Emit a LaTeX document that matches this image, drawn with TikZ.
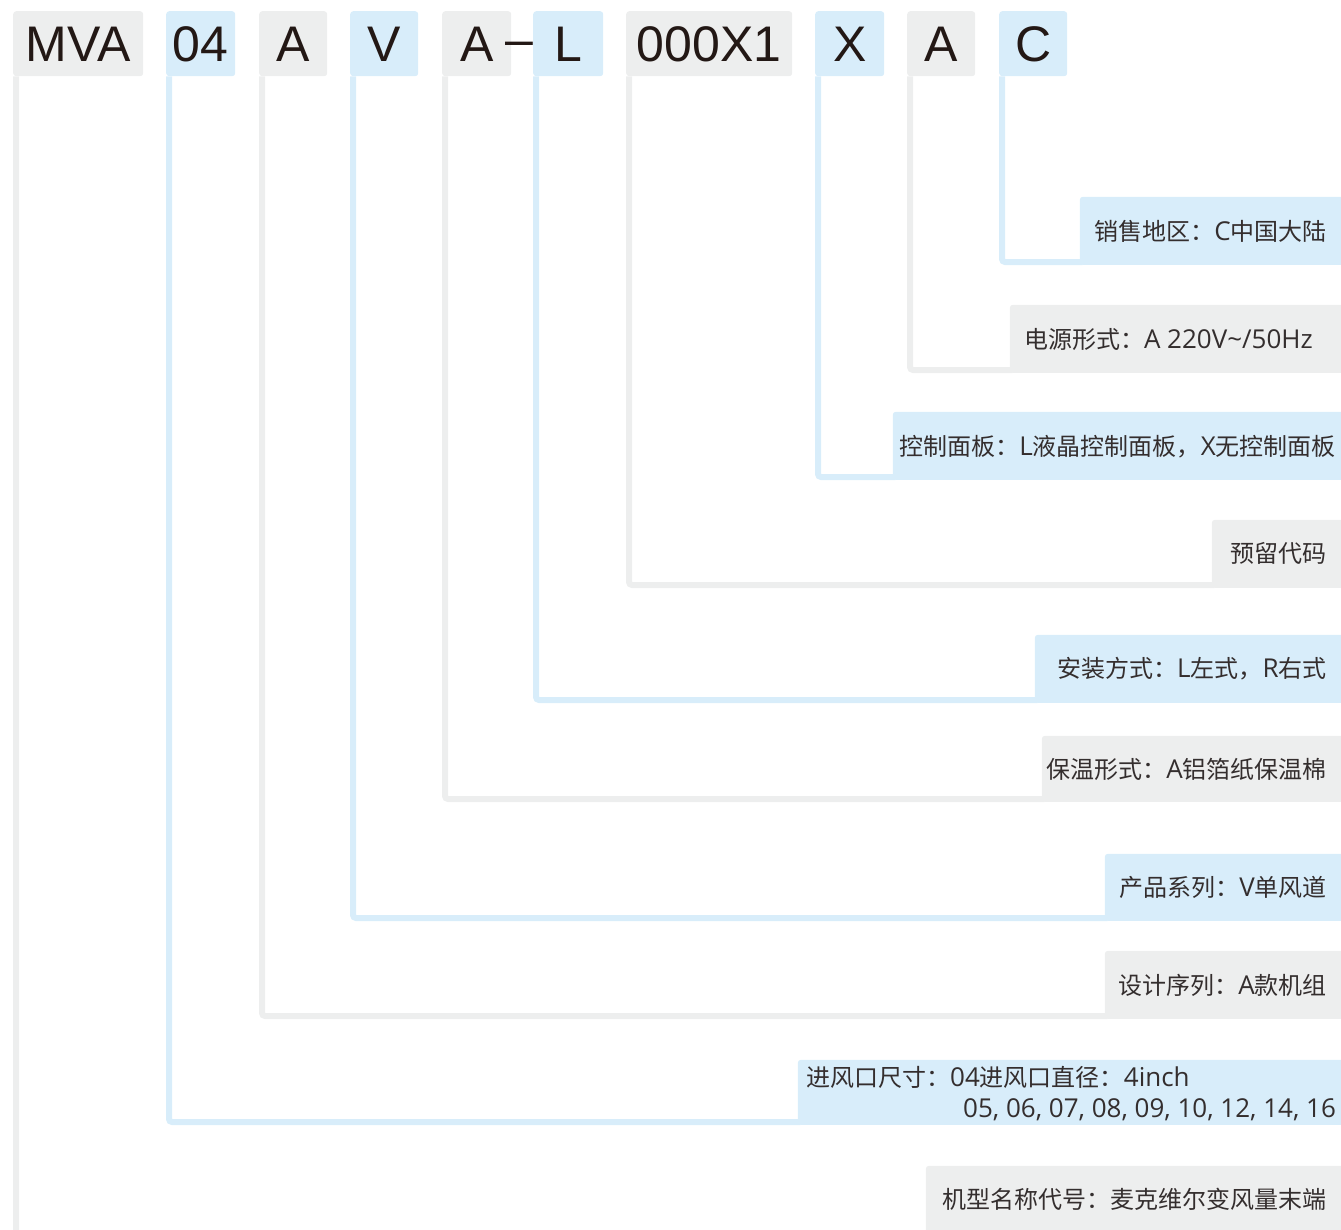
\documentclass[tikz,border=0pt]{standalone}
\usepackage{fontspec}
\setmainfont{Open Sans}
\newfontfamily\cjkfont{Noto Sans CJK SC}
\newfontfamily\codefont{Liberation Sans}
\newcommand\zh[1]{{\cjkfont\fontsize{24}{28}\selectfont #1}}
\definecolor{boxgray}{RGB}{237,238,238}
\definecolor{boxblue}{RGB}{216,237,250}
\definecolor{codetext}{RGB}{35,24,21}
\definecolor{lbltextcol}{RGB}{52,46,46}
\tikzset{
  codebox/.style={rounded corners=3pt, inner sep=0pt, minimum height=65pt,
    text height=36pt, text depth=0pt, anchor=north west,
    font=\codefont\fontsize{50}{55}\selectfont, text=codetext},
  codegray/.style={codebox, fill=boxgray},
  codeblue/.style={codebox, fill=boxblue},
  lblbox/.style={rounded corners=3pt, inner sep=0pt, anchor=south east},
  lblgray/.style={lblbox, fill=boxgray},
  lblblue/.style={lblbox, fill=boxblue},
  lbltext/.style={inner sep=0pt, anchor=base east,
    font=\fontsize{26}{30}\selectfont, text=lbltextcol},
  conn/.style={line width=6pt, rounded corners=3pt},
  conngray/.style={conn, draw=boxgray},
  connblue/.style={conn, draw=boxblue}
}
\begin{document}
\begin{tikzpicture}[x=1pt,y=-1pt]
\useasboundingbox (0,0) rectangle (1341,1229);
\clip (0,0) rectangle (1341,1229);
% top code boxes
\node[codegray, minimum width=130pt] (cMVA) at (13,11) {MVA};
\node[codeblue, minimum width=69pt] (c04) at (166,11) {04};
\node[codegray, minimum width=68pt] (cA1) at (259,11) {A};
\node[codeblue, minimum width=68pt] (cV) at (350,11) {V};
\node[codegray, minimum width=69pt] (cA2) at (442,11) {A};
\node[inner sep=0pt, anchor=center, font=\codefont\fontsize{50}{55}\selectfont, text=codetext] (dash) at (519,49) {–};
\node[codeblue, minimum width=70pt] (cL) at (533,11) {L};
\node[codegray, minimum width=166pt] (c000) at (626,11) {000X1};
\node[codeblue, minimum width=69pt] (cX) at (815,11) {X};
\node[codegray, minimum width=68pt] (cA3) at (907,11) {A};
\node[codeblue, minimum width=68pt] (cC) at (999,11) {C};
% label boxes
\node[lblblue, minimum width=266pt, minimum height=68pt] (lC) at (1346,265) {};
\node[lblgray, minimum width=336pt, minimum height=68pt] (lA3) at (1346,373) {};
\node[lblblue, minimum width=453pt, minimum height=68pt] (lX) at (1346,480) {};
\node[lblgray, minimum width=134pt, minimum height=68pt] (l000) at (1346,588) {};
\node[lblblue, minimum width=311pt, minimum height=68pt] (lL) at (1346,703) {};
\node[lblgray, minimum width=304pt, minimum height=66pt] (lA2) at (1346,802) {};
\node[lblblue, minimum width=241pt, minimum height=67pt] (lV) at (1346,921) {};
\node[lblgray, minimum width=241pt, minimum height=68pt] (lA1) at (1346,1019) {};
\node[lblblue, minimum width=548pt, minimum height=65pt] (l04) at (1346,1125) {};
\node[lblgray, minimum width=420pt, minimum height=72pt] (lMVA) at (1346,1238) {};
% connectors
\draw[connblue] ([xshift=3pt]cC.south west) |- ([xshift=3pt,yshift=3pt]lC.south west);
\draw[conngray] ([xshift=3pt]cA3.south west) |- ([xshift=3pt,yshift=3pt]lA3.south west);
\draw[connblue] ([xshift=3pt]cX.south west) |- ([xshift=3pt,yshift=3pt]lX.south west);
\draw[conngray] ([xshift=3pt]c000.south west) |- ([xshift=3pt,yshift=3pt]l000.south west);
\draw[connblue] ([xshift=3pt]cL.south west) |- ([xshift=3pt,yshift=3pt]lL.south west);
\draw[conngray] ([xshift=3pt]cA2.south west) |- ([xshift=3pt,yshift=3pt]lA2.south west);
\draw[connblue] ([xshift=3pt]cV.south west) |- ([xshift=3pt,yshift=3pt]lV.south west);
\draw[conngray] ([xshift=3pt]cA1.south west) |- ([xshift=3pt,yshift=3pt]lA1.south west);
\draw[connblue] ([xshift=3pt]c04.south west) |- ([xshift=3pt,yshift=3pt]l04.south west);
\draw[conngray] ([xshift=3pt]cMVA.south west) |- ([xshift=3pt,yshift=3pt]lMVA.south west);
% label texts
\node[lbltext] (tC) at (1327,240) {\zh{销售地区：}C\zh{中国大陆}};
\node[lbltext] (tA3) at (1313,348) {\zh{电源形式：}A 220V\textasciitilde/50Hz};
\node[lbltext] (tX) at (1336,455) {\zh{控制面板：}L\zh{液晶控制面板，}X\zh{无控制面板}};
\node[lbltext] (t000) at (1327,562) {\zh{预留代码}};
\node[lbltext] (tL) at (1327,677) {\zh{安装方式：}L\zh{左式，}R\zh{右式}};
\node[lbltext] (tA2) at (1327,778) {\zh{保温形式：}A\zh{铝箔纸保温棉}};
\node[lbltext] (tV) at (1327,896) {\zh{产品系列：}V\zh{单风道}};
\node[lbltext] (tA1) at (1327,994) {\zh{设计序列：}A\zh{款机组}};
\node[lbltext, anchor=base west] (t04a) at (806,1086) {\zh{进风口尺寸：}04\zh{进风口直径：}4inch};
\node[lbltext] (t04b) at (1336,1117) {05, 06, 07, 08, 09, 10, 12, 14, 16};
\node[lbltext] (tMVA) at (1327,1208) {\zh{机型名称代号：麦克维尔变风量末端}};
\end{tikzpicture}
\end{document}
